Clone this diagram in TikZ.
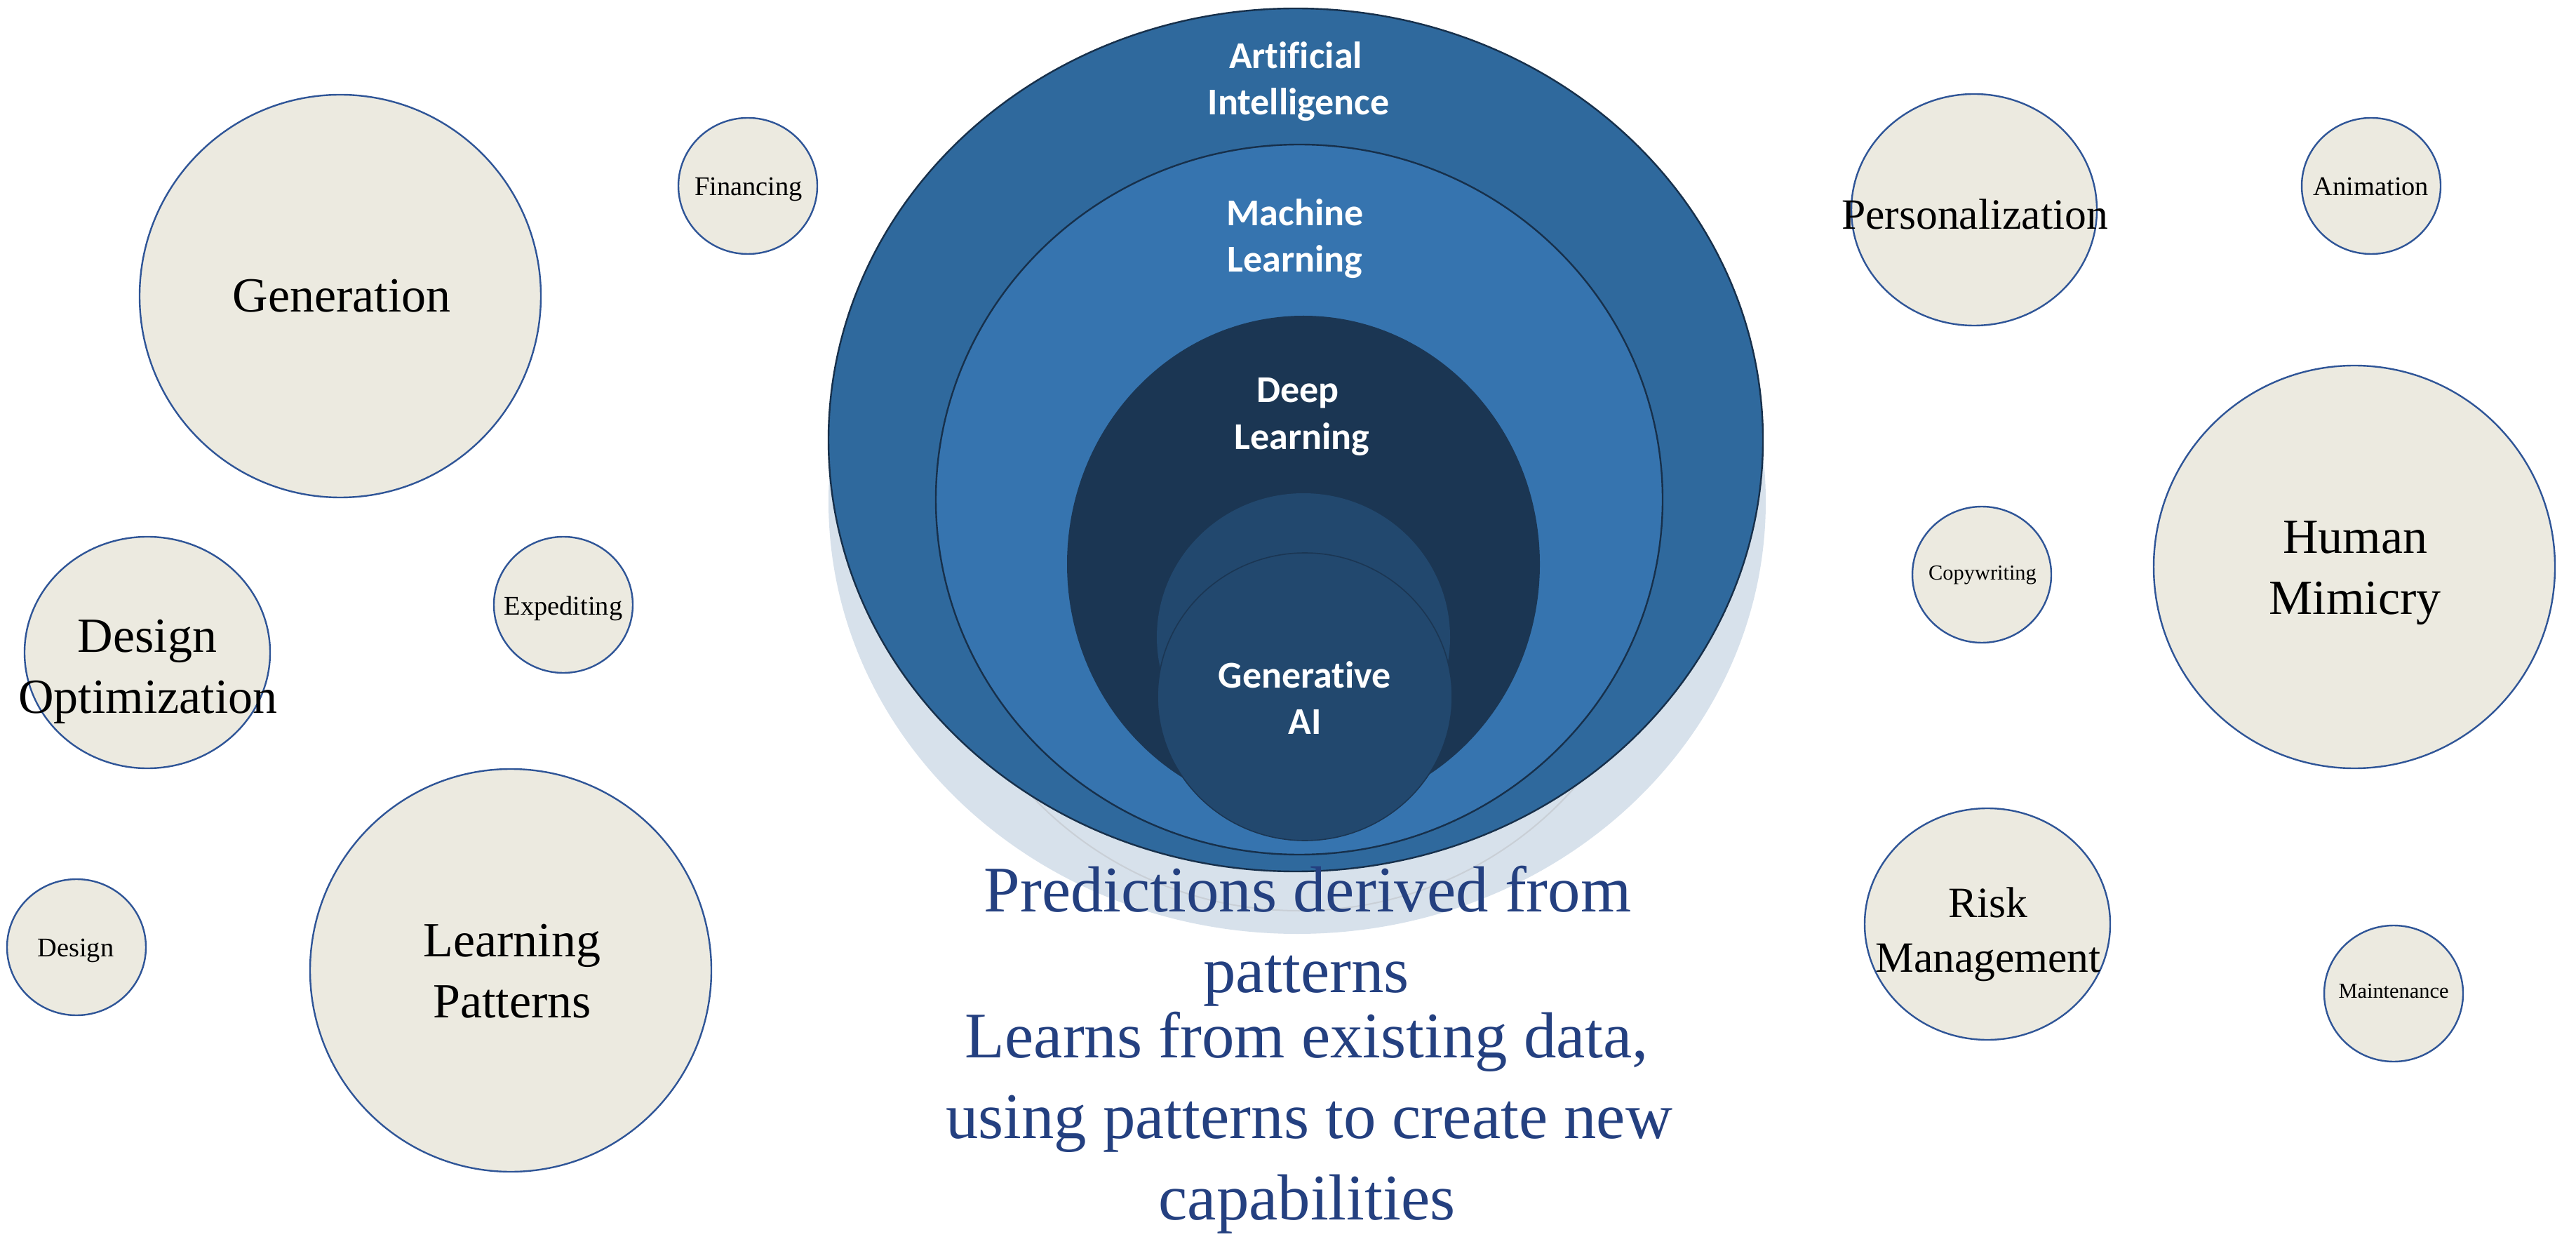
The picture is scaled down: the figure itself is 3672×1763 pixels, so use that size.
\documentclass[tikz,border=0pt]{standalone}
\usepackage{fontspec}
\setmainfont{Liberation Serif}
\newfontfamily\calib[Ligatures={NoCommon}]{Carlito}
\usetikzlibrary{shapes.geometric}
\definecolor{aiblue}{HTML}{2F699D}
\definecolor{mlblue}{HTML}{3674AF}
\definecolor{dlnavy}{HTML}{1B3653}
\definecolor{genblue}{HTML}{22486E}
\definecolor{shadowc}{HTML}{D7E1EB}
\definecolor{shadowline}{HTML}{C9CFD6}
\definecolor{outlinec}{HTML}{17304B}
\definecolor{bubblefill}{HTML}{ECEAE0}
\definecolor{bubbleline}{HTML}{2F5597}
\definecolor{textblue}{HTML}{244080}
\begin{document}
\begin{tikzpicture}[x=0.25pt, y=-0.25pt,
  bubble/.style={ellipse, draw=bubbleline, fill=bubblefill, line width=0.6pt, inner sep=0pt, outer sep=0pt},
  bsmall/.style={bubble, minimum width=49.5pt, minimum height=48.5pt},
  bmid/.style={bubble, minimum width=87.5pt, minimum height=82.5pt},
  bbig/.style={bubble, minimum width=143pt, minimum height=143.5pt},
  lab/.style={anchor=base, inner sep=0pt, outer sep=0pt, text=black},
  lbig/.style={lab, font=\fontsize{17.5}{21}\selectfont},
  lmid/.style={lab, font=\fontsize{15.4}{19}\selectfont},
  lsmall/.style={lab, font=\fontsize{9.6}{12}\selectfont},
  ltiny/.style={lab, font=\fontsize{7.6}{9}\selectfont},
  layer/.style={ellipse, inner sep=0pt, outer sep=0pt},
  ctext/.style={anchor=base, inner sep=0pt, outer sep=0pt, text=white, font=\calib\bfseries\fontsize{13.5}{16}\selectfont},
  btext/.style={anchor=base, inner sep=0pt, outer sep=0pt, text=textblue, font=\fontsize{23.2}{28}\selectfont}
]
\path[use as bounding box] (0,0) rectangle (3672,1763);

% ---- central nested ellipses ----
\node[layer, fill=shadowc, minimum width=334pt, minimum height=308pt] (shad) at (1849,715) {};
\node[layer, draw=shadowline, line width=0.5pt, minimum width=259pt, minimum height=253pt] (shadml) at (1852,792) {};
\node[layer, fill=aiblue, draw=outlinec, line width=0.6pt, minimum width=333pt, minimum height=307.5pt] (ai) at (1847,627) {};
\node[layer, fill=mlblue, draw=outlinec, line width=0.6pt, minimum width=259pt, minimum height=253pt] (ml) at (1852,712) {};
\node[layer, fill=dlnavy, minimum width=168.5pt, minimum height=177pt] (dl) at (1858,804) {};
\node[layer, fill=genblue, minimum width=104.5pt, minimum height=102.5pt] (gback) at (1858,908) {};
\node[layer, fill=genblue, draw=dlnavy, line width=0.4pt, minimum width=105pt, minimum height=102.5pt] (gai) at (1860,993) {};

\node[ctext] (ai1) at (1847,98) {Artificial};
\node[ctext] (ai2) at (1851,164) {Intelligence};
\node[ctext] (ml1) at (1846,322) {Machine};
\node[ctext] (ml2) at (1846,388) {Learning};
\node[ctext] (dl1) at (1850,574) {Deep};
\node[ctext] (dl2) at (1856,641) {Learning};
\node[ctext] (ga1) at (1860,980) {Generative};
\node[ctext] (ga2) at (1860,1046) {AI};

% ---- bottom text ----
\node[btext] (p1) at (1864,1299) {Predictions derived from};
\node[btext] (p2) at (1862,1414) {patterns};
\node[btext] (q1) at (1863,1507) {Learns from existing data,};
\node[btext] (q2) at (1866,1622) {using patterns to create new};
\node[btext] (q3) at (1863,1738) {capabilities};

% ---- left bubbles ----
\node[bbig] (gen) at (485,422) {};
\node[lbig] (genl) at (487,445) {Generation};
\node[bsmall] (fin) at (1066,265) {};
\node[lsmall] (finl) at (1067,279) {Financing};
\node[bmid] (dopt) at (210,930) {};
\node[lbig] (doptl1) at (210,930) {Design};
\node[lbig] (doptl2) at (211,1016) {Optimization};
\node[bsmall] (exp) at (803,862) {};
\node[lsmall] (expl) at (803,876) {Expediting};
\node[bsmall] (des) at (109,1350) {};
\node[lsmall] (desl) at (108,1363) {Design};
\node[bbig] (lpat) at (728,1383) {};
\node[lbig] (lpatl1) at (730,1363) {Learning};
\node[lbig] (lpatl2) at (730,1450) {Patterns};

% ---- right bubbles ----
\node[bmid] (pers) at (2814,299) {};
\node[lmid] (persl) at (2815,327) {Personalization};
\node[bsmall] (anim) at (3380,265) {};
\node[lsmall] (animl) at (3380,279) {Animation};
\node[bsmall] (copy) at (2825,819) {};
\node[ltiny] (copyl) at (2826,827) {Copywriting};
\node[bbig] (hum) at (3356,808) {};
\node[lbig] (huml1) at (3357,788) {Human};
\node[lbig] (huml2) at (3357,875) {Mimicry};
\node[bmid] (risk) at (2833,1317) {};
\node[lmid] (riskl1) at (2834,1307) {Risk};
\node[lmid] (riskl2) at (2834,1385) {Management};
\node[bsmall] (maint) at (3412,1416) {};
\node[ltiny] (maintl) at (3412,1422) {Maintenance};
\end{tikzpicture}
\end{document}
